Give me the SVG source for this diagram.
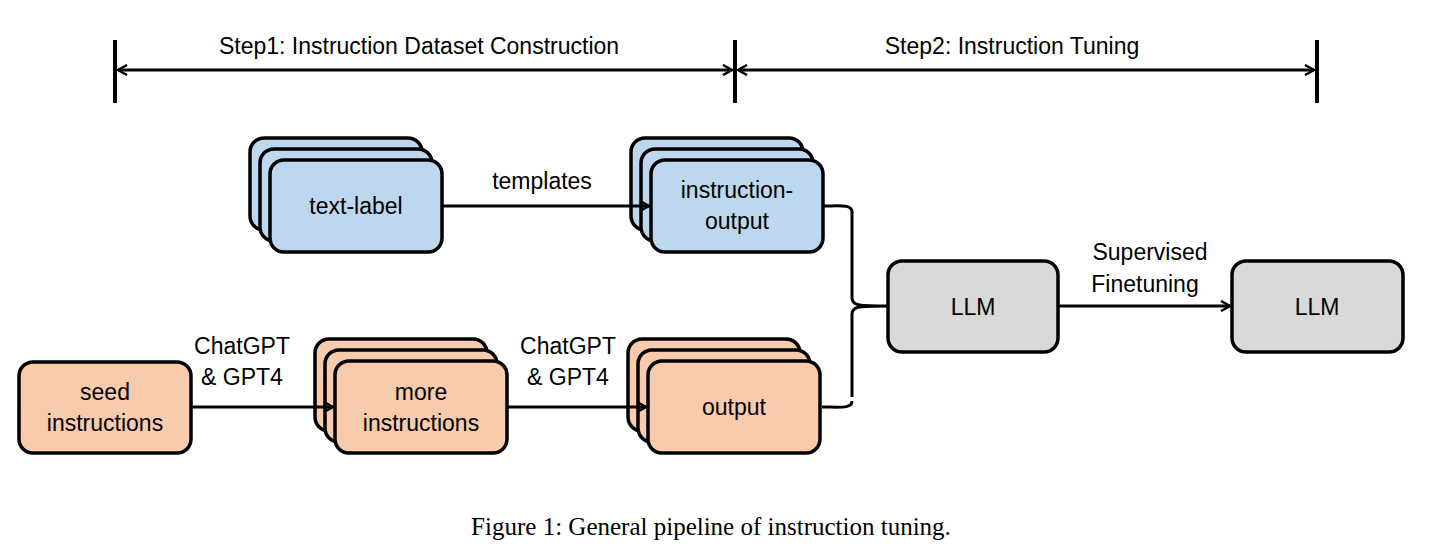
<svg xmlns="http://www.w3.org/2000/svg" width="1442" height="544" viewBox="0 0 1442 544">
<style>
.b{fill:#bdd7ee;stroke:#000;stroke-width:3.5}
.o{fill:#f8cbad;stroke:#000;stroke-width:3.5}
.g{fill:#d9d9d9;stroke:#000;stroke-width:3.5}
text{font-family:"Liberation Sans",Arial,sans-serif;font-size:23px;fill:#000;text-anchor:middle}
.c{fill:none;stroke:#000;stroke-width:3}
</style>
<defs>
<marker id="a" markerWidth="12" markerHeight="12" refX="10" refY="6" orient="auto-start-reverse" markerUnits="userSpaceOnUse">
<path d="M1,1 L10,6 L1,11" fill="none" stroke="#000" stroke-width="2.5"/>
</marker>
</defs>
<g id="steps">
<line x1="115" y1="40" x2="115" y2="103" stroke="#000" stroke-width="4"/>
<line x1="735" y1="40" x2="735" y2="103" stroke="#000" stroke-width="4"/>
<line x1="1317" y1="40" x2="1317" y2="103" stroke="#000" stroke-width="4"/>
<line x1="118" y1="70" x2="732" y2="70" class="c" marker-start="url(#a)" marker-end="url(#a)"/>
<line x1="738" y1="70" x2="1314" y2="70" class="c" marker-start="url(#a)" marker-end="url(#a)"/>
<text x="419" y="54">Step1: Instruction Dataset Construction</text>
<text x="1012" y="54">Step2: Instruction Tuning</text>
</g>
<g id="text-label">
<rect x="250" y="138" width="172" height="92" rx="14" class="b"/>
<rect x="260" y="149" width="172" height="92" rx="14" class="b"/>
<rect x="270" y="160" width="172" height="92" rx="14" class="b"/>
<text x="356" y="214">text-label</text>
</g>
<g id="instruction-output">
<rect x="631" y="138" width="172" height="92" rx="14" class="b"/>
<rect x="641" y="149" width="172" height="92" rx="14" class="b"/>
<rect x="651" y="160" width="172" height="92" rx="14" class="b"/>
<text x="737" y="198">instruction-</text>
<text x="737" y="229">output</text>
</g>
<g id="seed">
<rect x="19" y="362" width="172" height="91" rx="14" class="o"/>
<text x="105" y="400">seed</text>
<text x="105" y="431">instructions</text>
</g>
<g id="more">
<rect x="315" y="339" width="172" height="92" rx="14" class="o"/>
<rect x="325" y="350" width="172" height="92" rx="14" class="o"/>
<rect x="335" y="361" width="172" height="92" rx="14" class="o"/>
<text x="421" y="400">more</text>
<text x="421" y="431">instructions</text>
</g>
<g id="output">
<rect x="628" y="339" width="172" height="92" rx="14" class="o"/>
<rect x="638" y="350" width="172" height="92" rx="14" class="o"/>
<rect x="648" y="361" width="172" height="92" rx="14" class="o"/>
<text x="734" y="415">output</text>
</g>
<g id="llm1">
<rect x="888" y="261" width="170" height="91" rx="14" class="g"/>
<text x="973" y="315">LLM</text>
</g>
<g id="llm2">
<rect x="1232" y="261" width="171" height="91" rx="14" class="g"/>
<text x="1317" y="315">LLM</text>
</g>
<g id="connectors">
<line x1="442" y1="206" x2="649" y2="206" class="c" marker-end="url(#a)"/>
<text x="542" y="189">templates</text>
<line x1="191" y1="407" x2="333" y2="407" class="c" marker-end="url(#a)"/>
<text x="242" y="354">ChatGPT</text>
<text x="242" y="385">&amp; GPT4</text>
<line x1="507" y1="407" x2="646" y2="407" class="c" marker-end="url(#a)"/>
<text x="568" y="354">ChatGPT</text>
<text x="568" y="385">&amp; GPT4</text>
<path d="M822,206 C840,206 852,204 852,212 L852,298 C852,306 860,306 888,306 M852,397 L852,314 C852,306 860,306 888,306 M822,407 C840,407 852,409 852,401" class="c"/>
<line x1="1058" y1="306" x2="1230" y2="306" class="c" marker-end="url(#a)"/>
<text x="1150" y="260">Supervised</text>
<text x="1145" y="292">Finetuning</text>
</g>
<text x="711" y="535" style="font-family:'Liberation Serif','Times New Roman',serif;font-size:25px">Figure 1: General pipeline of instruction tuning.</text>
</svg>
